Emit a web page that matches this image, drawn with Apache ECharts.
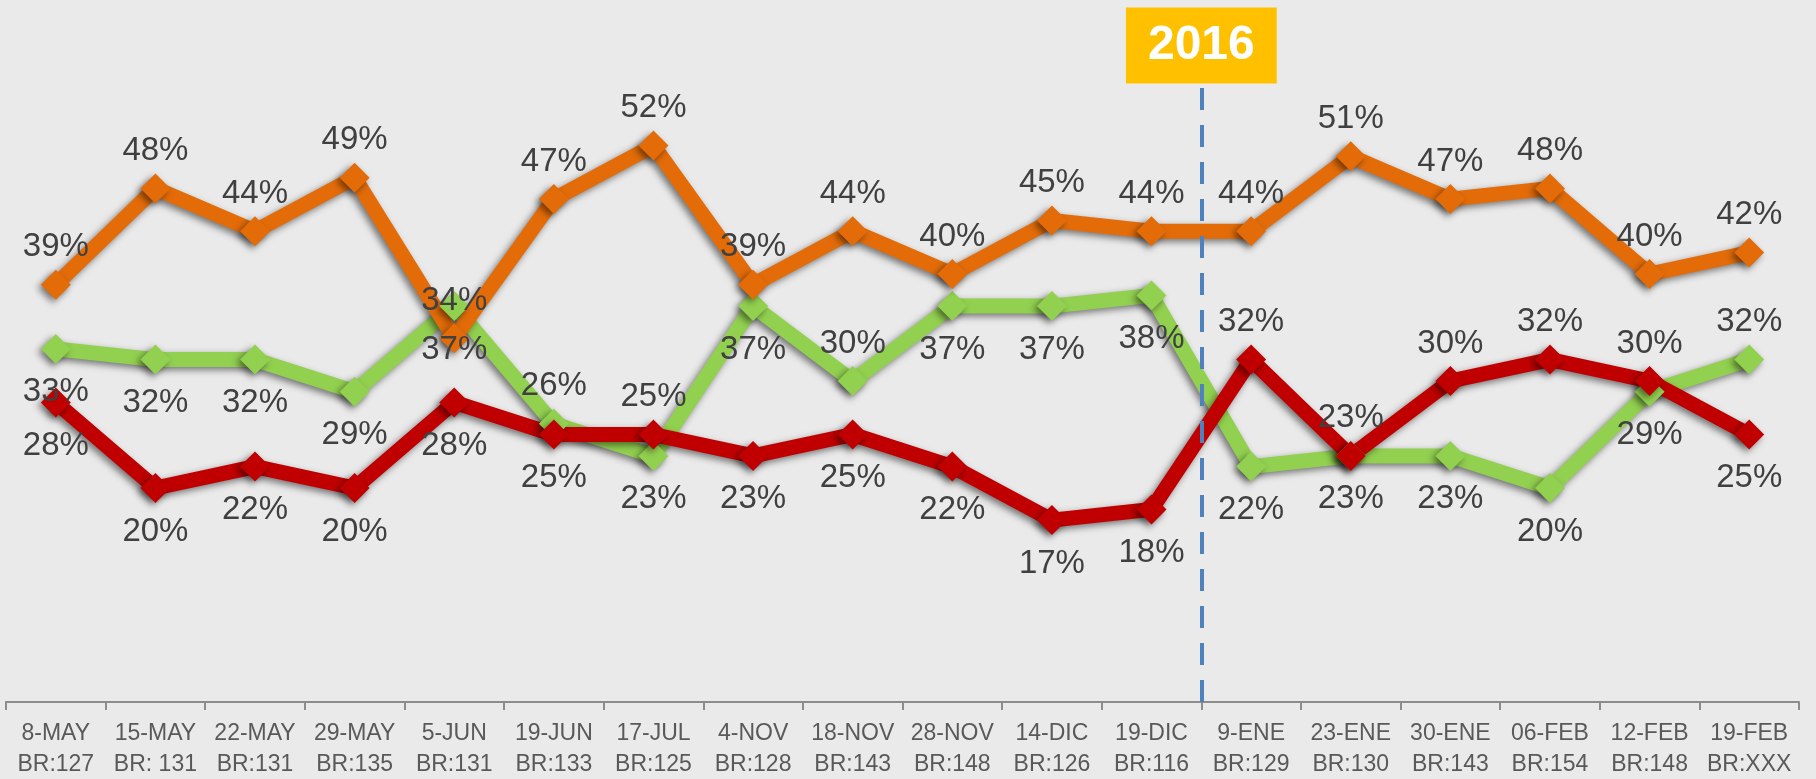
<!DOCTYPE html>
<html>
<head>
<meta charset="utf-8">
<script src="https://cdn.jsdelivr.net/npm/echarts@6/dist/echarts.min.js"></script>
<style>
  html, body { margin: 0; padding: 0; background: #EAEAEA; }
  #main { width: 1816px; height: 779px; }
</style>
</head>
<body>
<div id="main"></div>
<script>
var myChart = echarts.init(document.getElementById('main'));

// fechas y base de cada medición
var fechas = ['8-MAY', '15-MAY', '22-MAY', '29-MAY', '5-JUN', '19-JUN', '17-JUL', '4-NOV', '18-NOV',
  '28-NOV', '14-DIC', '19-DIC', '9-ENE', '23-ENE', '30-ENE', '06-FEB', '12-FEB', '19-FEB'];
var bases = ['BR:127', 'BR: 131', 'BR:131', 'BR:135', 'BR:131', 'BR:133', 'BR:125', 'BR:128', 'BR:143',
  'BR:148', 'BR:126', 'BR:116', 'BR:129', 'BR:130', 'BR:143', 'BR:154', 'BR:148', 'BR:XXX'];

// valores (%)
var naranja = [39, 48, 44, 49, 34, 47, 52, 39, 44, 40, 45, 44, 44, 51, 47, 48, 40, 42];
var verde = [33, 32, 32, 29, 37, 26, 23, 37, 30, 37, 37, 38, 22, 23, 23, 20, 29, 32];
var rojo = [28, 20, 22, 20, 28, 25, 25, 23, 25, 22, 17, 18, 32, 23, 30, 32, 30, 25];

// lado de la etiqueta (t = arriba, b = abajo)
var ladoVerde = ['b', 'b', 'b', 'b', 'b', 't', 'b', 'b', 't', 'b', 'b', 'b', 'b', 'b', 'b', 'b', 'b', 't'];
var ladoRojo = ['b', 'b', 'b', 'b', 'b', 'b', 't', 'b', 'b', 'b', 'b', 'b', 't', 't', 't', 't', 't', 'b'];

// corte de año (índice de categoría) y texto
var corte = 12;
var textoCorte = '2016';

var categorias = fechas.map(function (f, i) { return f + '\n' + bases[i]; });

function conLado(valores, lados) {
  return valores.map(function (v, i) {
    var abajo = lados && lados[i] === 'b';
    return { value: v, label: { position: abajo ? 'bottom' : 'top', distance: abajo ? 12 : 6 } };
  });
}

var sombra = {
  shadowBlur: 7,
  shadowColor: 'rgba(0,0,0,0.5)',
  shadowOffsetX: -3,
  shadowOffsetY: 3
};

function serie(nombre, color, datos) {
  return {
    name: nombre,
    type: 'line',
    data: datos,
    symbol: 'diamond',
    symbolSize: 30,
    lineStyle: Object.assign({ color: color, width: 15, join: 'round' }, sombra),
    itemStyle: Object.assign({ color: color }, sombra),
    label: {
      show: true,
      formatter: '{c}%',
      color: '#404040',
      fontSize: 33,
      fontFamily: 'Liberation Sans'
    }
  };
}

var option = {
  backgroundColor: '#EAEAEA',
  animation: false,
  grid: { left: 6, right: 17, top: 60, bottom: 77, outerBoundsMode: 'none' },
  xAxis: [
    {
      type: 'category',
      data: categorias,
      boundaryGap: true,
      axisLine: { lineStyle: { color: '#8C8C8C', width: 2 } },
      axisTick: { show: true, interval: 0, length: 8, lineStyle: { color: '#8C8C8C', width: 2 } },
      axisLabel: {
        interval: 0,
        margin: 16,
        color: '#595959',
        fontSize: 23,
        lineHeight: 31,
        fontFamily: 'Liberation Sans'
      }
    },
    { type: 'value', min: 0, max: fechas.length, show: false }
  ],
  yAxis: { type: 'value', min: 0, max: 60, show: false, splitLine: { show: false } },
  series: [
    serie('Verde', '#92D050', conLado(verde, ladoVerde)),
    serie('Naranja', '#E36C09', conLado(naranja, null)),
    serie('Rojo', '#C00000', conLado(rojo, ladoRojo)),
    {
      name: 'corte',
      type: 'line',
      xAxisIndex: 1,
      data: [],
      silent: true,
      markLine: {
        silent: true,
        symbol: ['none', 'none'],
        lineStyle: { color: '#4F81BD', width: 4, type: [22, 15] },
        label: {
          show: true,
          position: 'end',
          distance: 0,
          formatter: textoCorte,
          color: '#FFFFFF',
          fontSize: 48,
          fontWeight: 'bold',
          lineHeight: 50,
          fontFamily: 'Liberation Sans',
          backgroundColor: '#FFC000',
          padding: [13, 22]
        },
        data: [[{ coord: [corte, 0] }, { coord: [corte, 57.8] }]]
      }
    }
  ]
};

myChart.setOption(option);
</script>
</body>
</html>
